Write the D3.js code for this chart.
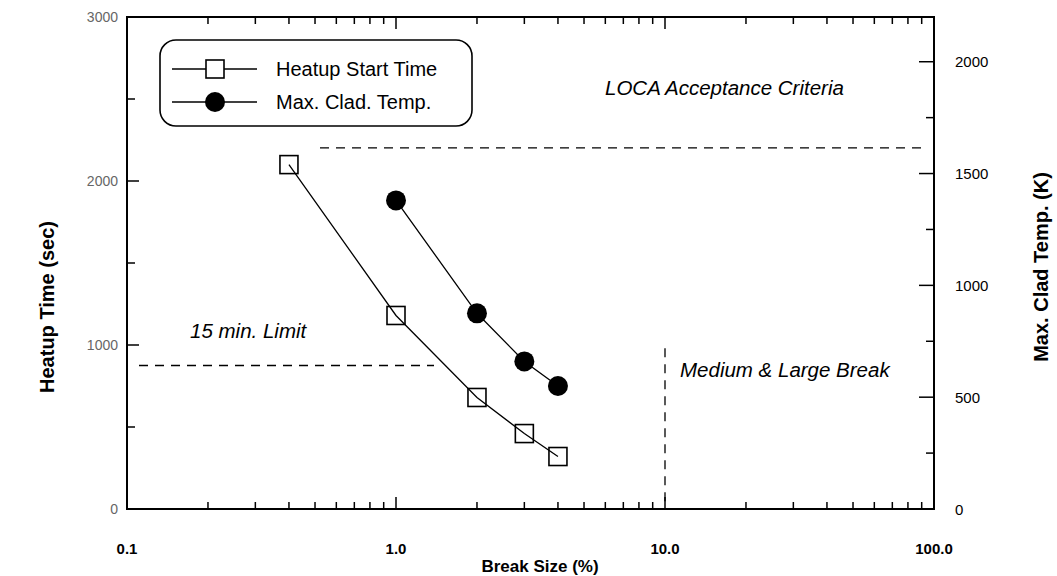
<!DOCTYPE html>
<html>
<head>
<meta charset="utf-8">
<script src="https://cdn.jsdelivr.net/npm/d3@7"></script>
<style>
  body { margin: 0; background: #fff; }
  svg { display: block; }
  text { font-family: "Liberation Sans", Arial, sans-serif; }
</style>
</head>
<body>
<svg id="chart" width="1057" height="576"></svg>
<script>
// Break size (% of pipe area) for each calculated case
const breakSizeHeatup = [0.4, 1.0, 2.0, 3.0, 4.0];
const heatupStartTime = [2100, 1180, 680, 460, 320];          // sec
const breakSizeClad = [1.0, 2.0, 3.0, 4.0];
const maxCladTemp = [1380, 875, 660, 550];                    // K

// Reference limits
const locaCriterionK = 1615;       // acceptance limit on clad temperature
const fifteenMinLimit = 875;       // operator action time, sec
const mediumBreakSize = 10;        // start of medium & large break range, %
const mediumBreakTop = 980;        // sec

const xTickValues = [0.1, 1, 10, 100];
const xTickLabels = ["0.1", "1.0", "10.0", "100.0"];
const yLeftTicks = [0, 1000, 2000, 3000];
const yRightTicks = [0, 500, 1000, 1500, 2000];

const svg = d3.select("#chart");
const plotL = 127, plotR = 934, plotT = 17, plotB = 509;

const x = d3.scaleLog().domain([0.1, 100]).range([plotL, plotR]);
const yL = d3.scaleLinear().domain([0, 3000]).range([plotB, plotT]);
const yR = d3.scaleLinear().domain([0, 2200]).range([plotB, plotT]);

// plot frame
svg.append("rect")
  .attr("x", plotL).attr("y", plotT)
  .attr("width", plotR - plotL).attr("height", plotB - plotT)
  .attr("fill", "none").attr("stroke", "#000").attr("stroke-width", 2);

// log-scale ticks on bottom and top edges (pointing inward)
const minorX = [];
[0.1, 1, 10].forEach(d => { for (let k = 2; k <= 9; k++) minorX.push(d * k); });
const ticksG = svg.append("g").attr("stroke", "#000").attr("stroke-width", 1.5);
minorX.forEach(v => {
  ticksG.append("line").attr("x1", x(v)).attr("x2", x(v)).attr("y1", plotB).attr("y2", plotB - 7);
  ticksG.append("line").attr("x1", x(v)).attr("x2", x(v)).attr("y1", plotT).attr("y2", plotT + 7);
});
[1, 10].forEach(v => {
  ticksG.append("line").attr("x1", x(v)).attr("x2", x(v)).attr("y1", plotB).attr("y2", plotB - 12);
  ticksG.append("line").attr("x1", x(v)).attr("x2", x(v)).attr("y1", plotT).attr("y2", plotT + 12);
});

// left axis ticks every 500 s
d3.range(500, 3000, 500).forEach(v => {
  const len = v % 1000 === 0 ? 12 : 8;
  ticksG.append("line").attr("x1", plotL).attr("x2", plotL + len).attr("y1", yL(v)).attr("y2", yL(v));
});
// right axis ticks every 250 K
d3.range(250, 2200, 250).forEach(v => {
  const len = v % 500 === 0 ? 15 : 8;
  ticksG.append("line").attr("x1", plotR).attr("x2", plotR - len).attr("y1", yR(v)).attr("y2", yR(v));
});

// tick labels
svg.append("g").selectAll("text").data(xTickValues).join("text")
  .attr("x", d => x(d)).attr("y", 554)
  .attr("text-anchor", "middle")
  .attr("font-family", "'Liberation Sans Narrow', 'Arial Narrow', sans-serif")
  .attr("font-weight", "bold").attr("font-size", 15)
  .text((d, i) => xTickLabels[i]);

svg.append("g").selectAll("text").data(yLeftTicks).join("text")
  .attr("x", 118).attr("y", d => yL(d) + 5)
  .attr("text-anchor", "end").attr("font-size", 14).attr("fill", "#666")
  .text(d => d);

svg.append("g").selectAll("text").data(yRightTicks).join("text")
  .attr("x", 955).attr("y", d => yR(d) + 5.5)
  .attr("text-anchor", "start").attr("font-size", 15).attr("fill", "#000")
  .text(d => d);

// axis titles
svg.append("text").attr("x", 540).attr("y", 572)
  .attr("text-anchor", "middle").attr("font-weight", "bold").attr("font-size", 17)
  .text("Break Size (%)");
svg.append("text").attr("transform", "translate(54,307) rotate(-90)")
  .attr("text-anchor", "middle").attr("font-weight", "bold").attr("font-size", 20)
  .text("Heatup Time (sec)");
svg.append("text").attr("transform", "translate(1048,267) rotate(-90)")
  .attr("text-anchor", "middle").attr("font-weight", "bold").attr("font-size", 20)
  .text("Max. Clad Temp. (K)");

// reference lines
const dash = "9,7";
svg.append("line")
  .attr("x1", 320).attr("x2", 922)
  .attr("y1", yR(locaCriterionK)).attr("y2", yR(locaCriterionK))
  .attr("stroke", "#000").attr("stroke-width", 1.3).attr("stroke-dasharray", dash);
svg.append("line")
  .attr("x1", 139).attr("x2", 434)
  .attr("y1", yL(fifteenMinLimit)).attr("y2", yL(fifteenMinLimit))
  .attr("stroke", "#000").attr("stroke-width", 1.3).attr("stroke-dasharray", dash);
svg.append("line")
  .attr("x1", x(mediumBreakSize)).attr("x2", x(mediumBreakSize))
  .attr("y1", yL(mediumBreakTop)).attr("y2", plotB)
  .attr("stroke", "#000").attr("stroke-width", 1.3).attr("stroke-dasharray", dash);

// annotations
const note = (tx, ty, s) => svg.append("text").attr("x", tx).attr("y", ty)
  .attr("font-style", "italic").attr("font-size", 20.5).text(s);
note(605, 95, "LOCA Acceptance Criteria");
note(190, 338, "15 min. Limit");
note(680, 377, "Medium & Large Break");

// data series
const heatup = breakSizeHeatup.map((b, i) => [b, heatupStartTime[i]]);
const clad = breakSizeClad.map((b, i) => [b, maxCladTemp[i]]);

svg.append("path").datum(heatup)
  .attr("d", d3.line().x(d => x(d[0])).y(d => yL(d[1])))
  .attr("fill", "none").attr("stroke", "#000").attr("stroke-width", 1.3);
svg.append("path").datum(clad)
  .attr("d", d3.line().x(d => x(d[0])).y(d => yR(d[1])))
  .attr("fill", "none").attr("stroke", "#000").attr("stroke-width", 1.3);

const sq = 18;
svg.append("g").selectAll("rect").data(heatup).join("rect")
  .attr("x", d => x(d[0]) - sq / 2).attr("y", d => yL(d[1]) - sq / 2)
  .attr("width", sq).attr("height", sq)
  .attr("fill", "none").attr("stroke", "#000").attr("stroke-width", 1.6);
svg.append("g").selectAll("circle").data(clad).join("circle")
  .attr("cx", d => x(d[0])).attr("cy", d => yR(d[1])).attr("r", 10)
  .attr("fill", "#000");

// legend
const lg = svg.append("g");
lg.append("rect").attr("x", 160).attr("y", 40).attr("width", 312).attr("height", 86)
  .attr("rx", 16).attr("fill", "#fff").attr("stroke", "#000").attr("stroke-width", 1.6);
const rows = [{ y: 69, label: "Heatup Start Time", shape: "square" },
              { y: 102, label: "Max. Clad. Temp.", shape: "circle" }];
rows.forEach(r => {
  lg.append("line").attr("x1", 172).attr("x2", 257).attr("y1", r.y).attr("y2", r.y)
    .attr("stroke", "#000").attr("stroke-width", 1.3);
  if (r.shape === "square") {
    lg.append("rect").attr("x", 215 - sq / 2).attr("y", r.y - sq / 2)
      .attr("width", sq).attr("height", sq).attr("fill", "#fff")
      .attr("stroke", "#000").attr("stroke-width", 1.6);
  } else {
    lg.append("circle").attr("cx", 215).attr("cy", r.y).attr("r", 10).attr("fill", "#000");
  }
  lg.append("text").attr("x", 276).attr("y", r.y + 7).attr("font-size", 20).text(r.label);
});
</script>
</body>
</html>
